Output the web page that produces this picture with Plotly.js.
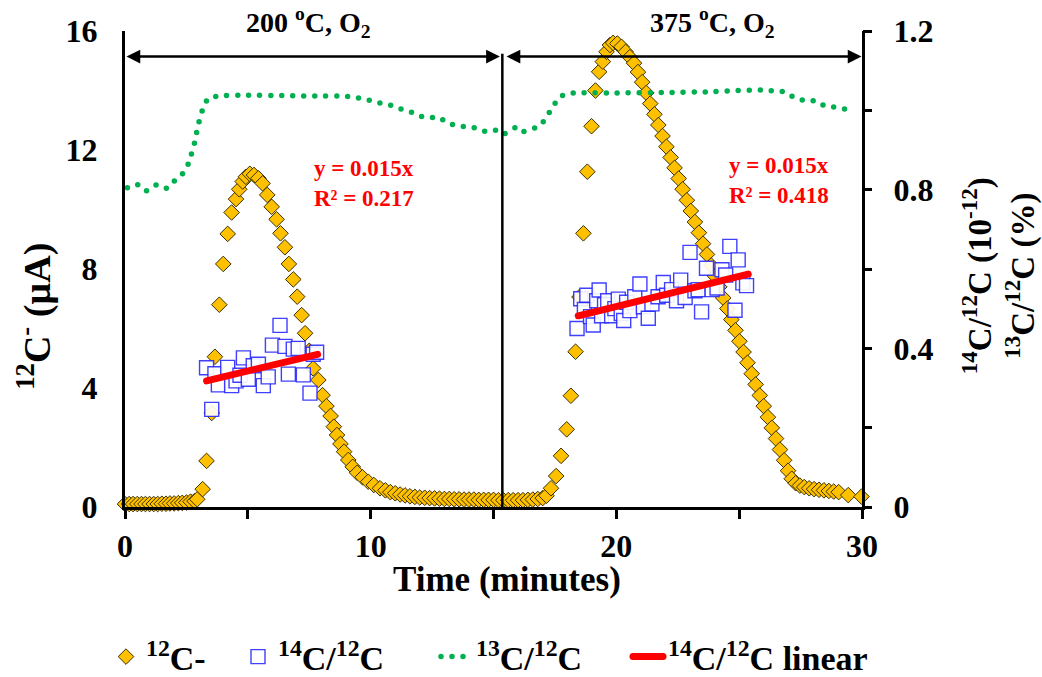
<!DOCTYPE html>
<html>
<head>
<meta charset="utf-8">
<script src="https://cdn.plot.ly/plotly-3.0.1.min.js"></script>
<style>
html,body{margin:0;padding:0;background:#ffffff;}
#chart{width:1042px;height:677px;}
path.js-line {stroke-linecap: round;}
</style>
</head>
<body>
<div id="chart"></div>
<script>
// 12C- current (µA) versus time (minutes)
const c12Time = [0.00,0.17,0.33,0.50,0.67,0.83,1.00,1.17,1.33,1.50,1.67,1.83,2.00,2.17,2.33,2.50,2.67,2.83,2.94,3.16,3.32,3.53,3.66,3.84,4.00,4.18,4.34,4.52,4.65,4.79,4.92,5.08,5.25,5.43,5.60,5.79,5.97,6.17,6.33,6.51,6.67,6.85,7.01,7.19,7.33,7.50,7.66,7.87,8.04,8.20,8.37,8.50,8.63,8.77,8.92,9.09,9.27,9.45,9.67,9.90,10.13,10.38,10.60,10.80,11.00,11.20,11.40,11.60,11.80,12.00,12.20,12.40,12.60,12.80,13.00,13.20,13.40,13.60,13.80,14.00,14.20,14.40,14.60,14.80,15.00,15.20,15.40,15.60,15.80,16.00,16.20,16.40,16.60,16.80,17.00,17.16,17.34,17.55,17.75,17.98,18.15,18.34,18.50,18.66,18.82,18.99,19.15,19.30,19.45,19.60,19.74,19.87,20.04,20.21,20.38,20.55,20.72,20.88,21.05,21.22,21.38,21.55,21.71,21.88,22.04,22.21,22.37,22.54,22.70,22.87,23.03,23.20,23.36,23.53,23.69,23.86,24.02,24.19,24.35,24.52,24.68,24.85,25.01,25.18,25.34,25.51,25.67,25.84,26.00,26.17,26.33,26.50,26.66,26.83,26.99,27.14,27.30,27.47,27.65,27.85,28.05,28.25,28.45,28.65,28.85,29.05,29.44,29.98];
const c12Current = [0.10,0.10,0.10,0.10,0.10,0.10,0.10,0.10,0.10,0.11,0.11,0.12,0.12,0.13,0.14,0.15,0.18,0.20,0.26,0.60,1.55,3.16,5.05,6.80,8.17,9.18,9.90,10.35,10.68,10.94,11.10,11.20,11.16,11.05,10.88,10.49,10.09,9.67,9.20,8.73,8.17,7.65,7.07,6.45,5.84,5.25,4.66,4.27,3.76,3.39,3.06,2.70,2.42,2.12,1.86,1.58,1.35,1.15,1.00,0.85,0.74,0.63,0.56,0.50,0.46,0.42,0.39,0.36,0.34,0.32,0.31,0.30,0.29,0.28,0.27,0.27,0.26,0.26,0.25,0.25,0.25,0.24,0.24,0.24,0.24,0.23,0.23,0.23,0.23,0.23,0.23,0.24,0.25,0.27,0.30,0.38,0.63,1.04,1.72,2.61,3.74,5.22,7.06,9.20,11.27,12.80,14.00,14.63,14.97,15.30,15.53,15.60,15.58,15.47,15.30,15.12,14.92,14.62,14.28,13.92,13.56,13.20,12.84,12.47,12.11,11.75,11.40,11.04,10.68,10.31,9.95,9.58,9.22,8.85,8.49,8.12,7.76,7.40,7.03,6.67,6.30,5.94,5.57,5.21,4.85,4.48,4.12,3.75,3.39,3.02,2.66,2.30,1.93,1.57,1.22,0.95,0.80,0.72,0.67,0.63,0.60,0.58,0.56,0.54,0.52,0.50,0.40,0.35];

// 14C/12C ratio (10^-12) measurements
const c14Time = [3.32,3.53,3.66,3.80,4.18,4.34,4.52,4.68,4.82,5.02,5.22,5.43,5.63,5.83,6.00,6.31,6.51,6.65,6.85,7.05,7.26,7.53,7.66,7.80,
                 18.40,18.55,18.70,18.80,18.95,19.06,19.20,19.30,19.40,19.52,19.65,19.81,19.94,20.08,20.20,20.30,20.42,20.55,20.75,20.96,21.10,21.30,21.45,21.70,21.91,22.05,22.25,22.45,22.62,22.80,23.00,23.20,23.33,23.47,23.67,23.90,24.10,24.30,24.45,24.62,24.83,24.96,25.15,25.30];
const c14Ratio = [0.351,0.246,0.336,0.308,0.352,0.306,0.318,0.332,0.376,0.322,0.356,0.360,0.306,0.328,0.408,0.458,0.405,0.335,0.398,0.400,0.333,0.287,0.385,0.390,
                  0.450,0.525,0.498,0.534,0.480,0.459,0.520,0.547,0.482,0.510,0.520,0.482,0.500,0.524,0.488,0.470,0.516,0.495,0.530,0.562,0.505,0.476,0.512,0.530,0.566,0.534,0.548,0.520,0.572,0.528,0.642,0.545,0.548,0.492,0.602,0.548,0.552,0.598,0.585,0.657,0.496,0.623,0.565,0.558];

// 13C/12C ratio (%)
const c13Time = [0.10,0.50,0.85,1.26,1.63,1.76,2.08,2.40,2.60,2.85,2.94,3.05,3.19,3.39,3.80,5.00,6.50,8.00,8.90,9.33,9.80,10.24,10.72,11.15,11.57,11.98,12.39,12.79,13.13,13.47,13.87,14.31,14.72,15.10,15.37,15.70,15.91,16.19,16.48,16.89,17.16,17.41,17.68,18.08,18.52,20.00,22.00,24.00,24.51,25.47,25.91,26.39,26.82,27.23,27.68,28.12,28.49,28.94,29.30,29.71];
const c13Ratio = [0.805,0.813,0.797,0.812,0.803,0.805,0.827,0.844,0.869,0.923,0.952,0.980,1.007,1.030,1.036,1.038,1.037,1.036,1.036,1.033,1.028,1.020,1.015,1.005,0.998,0.986,0.982,0.982,0.967,0.963,0.958,0.955,0.946,0.950,0.940,0.949,0.957,0.946,0.952,0.961,0.984,1.008,1.033,1.043,1.044,1.044,1.045,1.047,1.049,1.051,1.051,1.049,1.047,1.033,1.024,1.024,1.011,1.008,1.003,1.000];

// Linear trend lines of 14C/12C (end points)
const trend1Time = [3.32, 7.84];
const trend1Ratio = [0.318, 0.385];
const trend2Time = [18.45, 25.37];
const trend2Ratio = [0.482, 0.587];

// Segment boundaries and labels
const segmentStart = [0, 15.47];
const segmentEnd = [15.26, 29.98];
const segmentDivider = 15.36;
const segmentLabels = ['200 <sup>o</sup>C, O<sub>2</sub>', '375 <sup>o</sup>C, O<sub>2</sub>'];
const segmentLabelTime = [7.45, 23.93];
const fitLabels = ['y = 0.015x<br>R² = 0.217', 'y = 0.015x<br>R² = 0.418'];
const fitLabelTime = [9.73, 26.62];
const fitLabelValue = [10.87, 10.99];

// Axis titles
const xTitle = 'Time (minutes)';
const yTitle = '<sup>12</sup>C<sup>-</sup> (µA)';
const y2Title = '<sup>14</sup>C/<sup>12</sup>C (10<sup>-12</sup>)<br><sup>13</sup>C/<sup>12</sup>C (%)';

const FONT = 'Liberation Serif';
const BLACK = '#000000';

const traces = [
  {
    x: c12Time, y: c12Current, type: 'scatter', mode: 'markers', name: '<sup>12</sup>C-',
    yaxis: 'y', cliponaxis: false, legend: 'legend',
    marker: {symbol: 'diamond', size: 12, color: '#FFC000', line: {color: '#3a3000', width: 1}}
  },
  {
    x: c14Time, y: c14Ratio, type: 'scatter', mode: 'markers', name: '<sup>14</sup>C/<sup>12</sup>C',
    yaxis: 'y2', cliponaxis: false, legend: 'legend2',
    marker: {symbol: 'square', size: 14, color: 'rgba(255,255,255,0.9)', line: {color: 'rgba(30,30,255,0.85)', width: 1.4}}
  },
  {
    x: c13Time, y: c13Ratio, type: 'scatter', mode: 'lines', name: '<sup>13</sup>C/<sup>12</sup>C',
    yaxis: 'y3', legend: 'legend3',
    line: {color: '#00B050', width: 5.5, dash: '0px,11px', shape: 'spline', smoothing: 0.6}
  },
  {
    x: trend1Time, y: trend1Ratio, type: 'scatter', mode: 'lines', name: '<sup>14</sup>C/<sup>12</sup>C linear',
    yaxis: 'y2', legendgroup: 'trend', legend: 'legend4', line: {color: '#FF0000', width: 7}
  },
  {
    x: trend2Time, y: trend2Ratio, type: 'scatter', mode: 'lines', name: '<sup>14</sup>C/<sup>12</sup>C linear',
    yaxis: 'y2', legendgroup: 'trend', legend: 'legend4', showlegend: false, line: {color: '#FF0000', width: 7}
  }
];

const tickStyle = {ticks: 'outside', ticklen: 9, tickwidth: 3, tickcolor: BLACK};
const axisBase = Object.assign({
  showline: true, linewidth: 3, linecolor: BLACK, showgrid: false, zeroline: false,
  tickfont: {family: FONT, size: 32, color: BLACK, weight: 'bold'}, automargin: false
}, tickStyle);
// tick-mark-only axis (no labels, no line)
function tickOnlyAxis(side, range, dtick) {
  return {
    overlaying: 'y', side: side, anchor: 'x', automargin: false,
    range: range, tick0: 0, dtick: dtick, ticks: 'outside', ticklen: 9, tickwidth: 3, tickcolor: BLACK,
    showticklabels: false, showline: false, showgrid: false, zeroline: false
  };
}

const annotations = [];
for (let i = 0; i < 2; i++) {
  annotations.push({
    xref: 'x', yref: 'y', axref: 'x', ayref: 'y',
    x: segmentEnd[i], y: 15.14, ax: segmentStart[i], ay: 15.14,
    text: '', showarrow: true, arrowside: 'end+start', arrowhead: 2, arrowsize: 1.1, arrowwidth: 2.5, arrowcolor: BLACK,
    standoff: 0, startstandoff: 0
  });
  annotations.push({
    xref: 'x', yref: 'paper', x: segmentLabelTime[i], y: 1.018, yanchor: 'middle', xanchor: 'center',
    text: segmentLabels[i], showarrow: false,
    font: {family: FONT, size: 28, color: BLACK, weight: 'bold'}
  });
  annotations.push({
    xref: 'x', yref: 'y', x: fitLabelTime[i], y: fitLabelValue[i], xanchor: 'center', yanchor: 'middle',
    text: fitLabels[i], showarrow: false, align: 'left',
    font: {family: FONT, size: 23, color: '#FF0000', weight: 'bold'}
  });
}
// axis titles placed as in the reference
annotations.push({
  xref: 'paper', yref: 'paper', x: 0.518, y: -0.153, xanchor: 'center', yanchor: 'middle',
  text: xTitle, showarrow: false, font: {family: FONT, size: 35, color: BLACK, weight: 'bold'}
});
annotations.push({
  xref: 'paper', yref: 'paper', x: -0.122, y: 0.40, xanchor: 'center', yanchor: 'middle', textangle: -90,
  text: yTitle, showarrow: false, font: {family: FONT, size: 38, color: BLACK, weight: 'bold'}
});
annotations.push({
  xref: 'paper', yref: 'paper', x: 1.186, y: 0.485, xanchor: 'center', yanchor: 'middle', textangle: -90,
  text: y2Title, showarrow: false, font: {family: FONT, size: 33, color: BLACK, weight: 'bold'}
});

function legendAt(xpx) {
  return {
    orientation: 'h', xref: 'container', yref: 'container',
    x: xpx / 1042, xanchor: 'left', y: 20 / 677, yanchor: 'middle',
    font: {family: FONT, size: 34, color: BLACK, weight: 'bold'},
    bgcolor: 'rgba(0,0,0,0)', borderwidth: 0
  };
}

const layout = {
  width: 1042, height: 677,
  margin: {l: 125, r: 180, t: 31, b: 170, pad: 0},
  paper_bgcolor: '#fff', plot_bgcolor: '#fff',
  font: {family: FONT, color: BLACK, weight: 'bold'},
  showlegend: true,
  legend: legendAt(106),
  legend2: legendAt(238),
  legend3: legendAt(436),
  legend4: legendAt(628),
  xaxis: Object.assign({}, axisBase, {
    range: [0, 30], tick0: 0, dtick: 10,
    minor: Object.assign({dtick: 5}, tickStyle)
  }),
  // left axis: labels (tick marks drawn by yaxis4)
  yaxis: Object.assign({}, axisBase, {
    range: [0, 16], tick0: 0, dtick: 4, ticklen: 18, tickcolor: 'rgba(0,0,0,0)'
  }),
  // right axis: labels (tick marks drawn by yaxis3)
  yaxis2: Object.assign({}, axisBase, {
    overlaying: 'y', side: 'right', anchor: 'x',
    range: [0, 1.2], tick0: 0, dtick: 0.4, ticklen: 22, tickcolor: 'rgba(0,0,0,0)'
  }),
  yaxis3: tickOnlyAxis('right', [0, 1.2], 0.2),
  yaxis4: tickOnlyAxis('left', [0, 16], 2),
  shapes: [
    {type: 'line', xref: 'x', yref: 'paper', x0: segmentDivider, x1: segmentDivider, y0: 0, y1: 0.952, line: {color: BLACK, width: 2.5}}
  ],
  annotations: annotations
};

Plotly.newPlot('chart', traces, layout, {displayModeBar: false, staticPlot: true});
</script>
</body>
</html>
